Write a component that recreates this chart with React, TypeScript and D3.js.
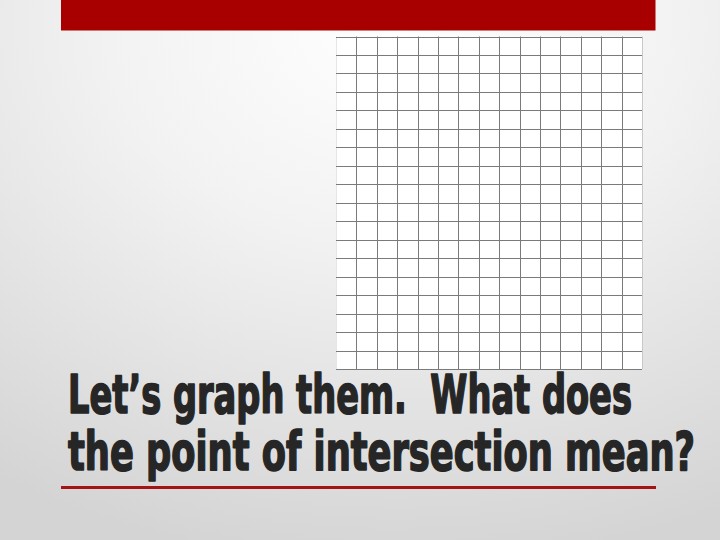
import React from "react";
import * as d3 from "d3";

const W = 720;
const H = 540;

// grid definition
const gridCols = d3.range(0, 16); // 15 columns
const gridRows = d3.range(0, 19); // 18 rows

const titleLines = ["Let’s graph them.\u00a0 What does", "the point of intersection mean?"];
const titleWidths = [564, 627];

export default function App() {
  const x = d3.scaleLinear().domain([0, 15]).range([336, 642]);
  const y = d3.scaleLinear().domain([0, 18]).range([36.5, 369]);

  return (
    <svg
      width={W}
      height={H}
      style={{ position: "absolute", left: 0, top: 0, display: "block" }}
      xmlns="http://www.w3.org/2000/svg"
    >
      <defs>
        <radialGradient id="bg" cx="0.55" cy="0.05" r="1.0" fx="0.55" fy="0.05">
          <stop offset="0" stopColor="#ffffff" />
          <stop offset="0.4" stopColor="#f2f2f2" />
          <stop offset="1" stopColor="#d4d4d4" />
        </radialGradient>
      </defs>
      <rect x={0} y={0} width={W} height={H} fill="url(#bg)" />
      {/* top red bar */}
      <rect x={61} y={0} width={594.5} height={30.5} fill="#a80000" />

      {/* grid paper */}
      <rect x={x(0)} y={y(0)} width={x(15) - x(0)} height={y(18) - y(0)} fill="#ffffff" />
      {gridCols.map((c) => (
        <line
          key={"c" + c}
          x1={Math.round(x(c)) + 0.5}
          x2={Math.round(x(c)) + 0.5}
          y1={y(0)}
          y2={y(18)}
          stroke={c === 0 ? "#e6e6e6" : c === 15 ? "#c8c8c8" : "#7a7a7a"}
          strokeWidth={1}
        />
      ))}
      {gridRows.map((r) => (
        <line
          key={"r" + r}
          x1={x(0)}
          x2={x(15)}
          y1={Math.round(y(r)) + 0.5}
          y2={Math.round(y(r)) + 0.5}
          stroke="#7a7a7a"
          strokeWidth={1}
        />
      ))}

      {/* title */}
      {titleLines.map((t, i) => (
        <g key={i} transform={`translate(68,${413 + i * 57}) scale(1,1.5)`}>
          <text
            x={0}
            y={0}
            textLength={titleWidths[i]}
            lengthAdjust="spacingAndGlyphs"
            fontFamily="'Liberation Sans Narrow', 'DejaVu Sans Condensed', 'Liberation Sans', sans-serif"
            fontWeight="bold"
            fontSize={36}
            fill="#262626"
            stroke="#262626"
            strokeWidth={1.1}
            strokeLinejoin="round"
          >
            {t}
          </text>
        </g>
      ))}

      {/* underline */}
      <rect x={61} y={486} width={595} height={3} fill="#a31515" />
    </svg>
  );
}
